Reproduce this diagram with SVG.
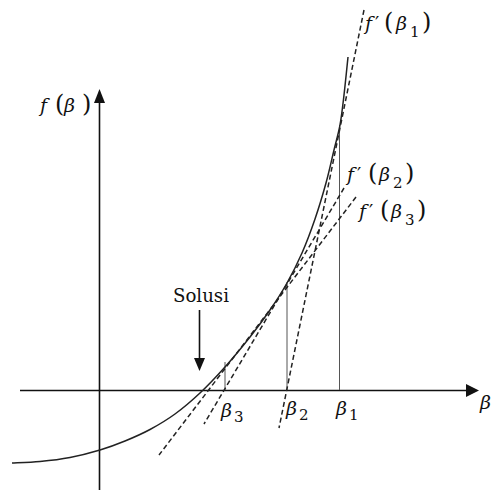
<svg xmlns="http://www.w3.org/2000/svg" width="494" height="490" viewBox="0 0 494 490">
<style>
.ax{stroke:#111;stroke-width:1.6;fill:none}
.curve{stroke:#222;stroke-width:1.5;fill:none}
.tan{stroke:#222;stroke-width:1.5;fill:none;stroke-dasharray:5 3}
.vl{stroke:#555;stroke-width:1;fill:none}
.head{fill:#111}
.m{font-family:'DejaVu Serif','Liberation Serif',serif;font-size:19px;fill:#111}
.i{font-style:italic}
.p{font-size:24px;font-style:normal}
.s{font-size:15px;font-style:normal}
.sol{font-family:'DejaVu Serif','Liberation Serif',serif;font-size:18px;fill:#111}
</style>
<rect width="494" height="490" fill="#fff"/>
<g id="axes">
<line class="ax" x1="20" y1="390.5" x2="468" y2="390.5"/>
<polygon class="head" points="466,384 479,390.5 466,397"/>
<line class="ax" x1="99.5" y1="490" x2="99.5" y2="102"/>
<polygon class="head" points="94,103 99.5,89 105,103"/>
</g>
<g id="verticals">
<line class="vl" x1="225" y1="390" x2="225" y2="362"/>
<line class="vl" x1="287" y1="390" x2="287" y2="282"/>
<line class="vl" x1="339.5" y1="390" x2="339.5" y2="125"/>
</g>
<g id="curve">
<path class="curve" d="M12,463 C16.67,462.75 30.33,462.42 40,461.5 C49.67,460.58 60,459.42 70,457.5 C80,455.58 90.83,452.75 100,450 C109.17,447.25 116.67,444.42 125,441 C133.33,437.58 141.67,434 150,429.5 C158.33,425 166.67,420.08 175,414 C183.33,407.92 191.67,400.83 200,393 C208.33,385.17 216.67,376.33 225,367 C233.33,357.67 242.5,346.5 250,337 C257.5,327.5 263.83,319 270,310 C276.17,301 281.67,292.5 287,283 C292.33,273.5 297.33,263.67 302,253 C306.67,242.33 311,230.67 315,219 C319,207.33 322.83,194.5 326,183 C329.17,171.5 331.67,159.67 334,150 C336.33,140.33 338.33,134.17 340,125 C341.67,115.83 342.67,106.33 344,95 C345.33,83.67 347.33,63.33 348,57"/>
</g>
<g id="connectors">
<line class="tan" x1="364" y1="10" x2="279" y2="428"/>
<line class="tan" x1="344" y1="188" x2="204" y2="424"/>
<line class="tan" x1="356" y1="197" x2="159" y2="455"/>
</g>
<g id="solusi">
<text class="sol" x="173" y="302" textLength="56" lengthAdjust="spacingAndGlyphs">Solusi</text>
<line class="ax" x1="199.5" y1="310" x2="199.5" y2="359"/>
<polygon class="head" points="194,358 205,358 199.5,371"/>
</g>
<g id="labels">
<text class="m" y="112"><tspan x="40" class="i">f</tspan><tspan x="55" class="p">(</tspan><tspan x="64" class="i">β</tspan><tspan x="82" class="p">)</tspan></text>
<text class="m" y="30"><tspan x="365" class="i">f</tspan><tspan x="375">′</tspan><tspan x="384" class="p">(</tspan><tspan x="396" class="i">β</tspan><tspan x="410" y="37" class="s">1</tspan><tspan x="422" y="30" class="p">)</tspan></text>
<text class="m" y="181"><tspan x="347" class="i">f</tspan><tspan x="357">′</tspan><tspan x="368" class="p">(</tspan><tspan x="379" class="i">β</tspan><tspan x="393" y="188" class="s">2</tspan><tspan x="405" y="181" class="p">)</tspan></text>
<text class="m" y="218"><tspan x="359" class="i">f</tspan><tspan x="369">′</tspan><tspan x="380" class="p">(</tspan><tspan x="391" class="i">β</tspan><tspan x="405" y="225" class="s">3</tspan><tspan x="417" y="218" class="p">)</tspan></text>
<text class="m" y="417"><tspan x="221" class="i">β</tspan><tspan x="234" y="422" class="s">3</tspan></text>
<text class="m" y="415"><tspan x="286" class="i">β</tspan><tspan x="299" y="420" class="s">2</tspan></text>
<text class="m" y="415"><tspan x="336" class="i">β</tspan><tspan x="349" y="420" class="s">1</tspan></text>
<text class="m" x="480" y="409"><tspan class="i">β</tspan></text>
</g>
</svg>
